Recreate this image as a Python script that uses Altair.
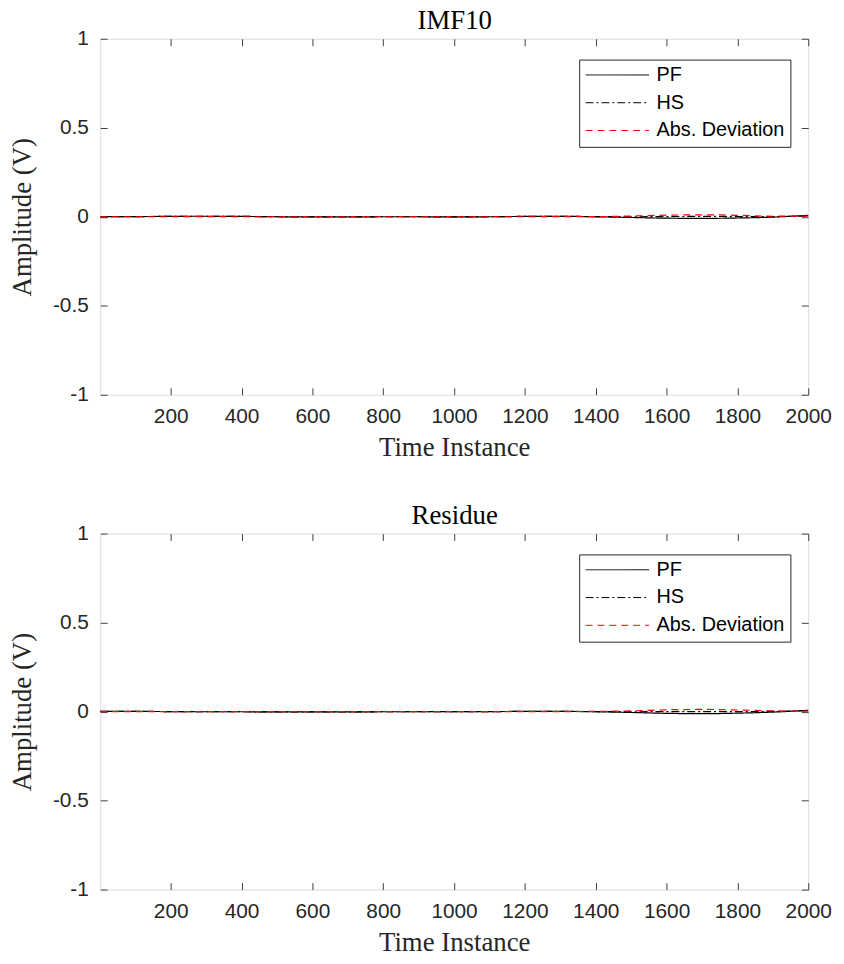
import altair as alt
import pandas as pd

# ---- data ----
time_pts = [1, 100, 200, 300, 400, 500, 600, 700, 800, 900, 1000,
            1100, 1200, 1300, 1400, 1500, 1600, 1700, 1800, 1900, 2000]

imf10_pf = [0.000, 0.001, 0.002, 0.003, 0.002, 0.000, -0.001, -0.001, 0.000, 0.000, -0.001,
            0.000, 0.002, 0.003, 0.000, -0.004, -0.008, -0.009, -0.007, -0.002, 0.008]
imf10_hs = [0.000, 0.001, 0.002, 0.002, 0.002, 0.000, -0.001, -0.001, 0.000, 0.000, -0.001,
            0.000, 0.002, 0.002, 0.001, 0.000, 0.001, 0.002, 0.001, 0.001, 0.004]
imf10_dev = [0.000, 0.000, 0.000, 0.001, 0.000, 0.000, 0.000, 0.000, 0.000, 0.000, 0.000,
             0.000, 0.000, 0.001, 0.001, 0.004, 0.009, 0.011, 0.008, 0.003, 0.004]

res_pf = [0.001, 0.001, 0.000, -0.001, -0.001, -0.002, -0.002, -0.002, -0.001, -0.001, 0.000,
          0.000, 0.001, 0.001, -0.001, -0.005, -0.010, -0.012, -0.009, -0.003, 0.007]
res_hs = [0.001, 0.001, 0.000, -0.001, -0.001, -0.002, -0.002, -0.002, -0.001, -0.001, 0.000,
          0.000, 0.001, 0.001, 0.000, -0.001, 0.000, 0.000, 0.000, 0.001, 0.005]
res_dev = [0.000, 0.000, 0.000, 0.000, 0.000, 0.000, 0.000, 0.000, 0.000, 0.000, 0.000,
           0.000, 0.000, 0.000, 0.001, 0.004, 0.010, 0.012, 0.009, 0.004, 0.002]

series_names = ["PF", "HS", "Abs. Deviation"]
series_colors = ["#000000", "#000000", "#ff0000"]
series_dashes = [[1, 0], [8, 3, 2, 3], [7, 5]]
x_ticks = [200, 400, 600, 800, 1000, 1200, 1400, 1600, 1800, 2000]
y_ticks = [-1, -0.5, 0, 0.5, 1]

SANS = "Liberation Sans"
SERIF = "Liberation Serif"
AX = "#404040"


def make_df(field, pf, hs, dev):
    rows = []
    for name, vals in zip(series_names, [pf, hs, dev]):
        for t, v in zip(time_pts, vals):
            rows.append({"t": t, "v": v, field: name})
    return pd.DataFrame(rows)


def panel(title, field, df):
    base = alt.Chart(df)
    x_scale = alt.Scale(domain=[1, 2000], nice=False, zero=False)
    y_scale = alt.Scale(domain=[-1, 1], nice=False)
    leg = alt.Legend(
        orient="none", legendX=483, legendY=21, title=None,
        symbolType="stroke", symbolSize=4096, symbolStrokeWidth=1, clipHeight=19,
        labelFont=SANS, labelFontSize=20, labelColor="#000000",
        labelOffset=7, padding=6, rowPadding=7,
        strokeColor="#262626", fillColor="#ffffff",
    )
    lines = base.mark_line(strokeWidth=1.2, interpolate="monotone").encode(
        x=alt.X("t:Q", scale=x_scale, axis=alt.Axis(
            orient="bottom", values=x_ticks, format="d", title="Time Instance",
            offset=-7, tickSize=7, tickColor=AX, domain=False, grid=False,
            labelPadding=11, labelFont=SANS, labelFontSize=21, labelColor="#262626",
            labelFlush=False,
            titleFont=SERIF, titleFontSize=27, titleFontWeight="normal", titleColor="#262626",
            titleX=357, titleY=68, titleBaseline="alphabetic", titleAlign="center")),
        y=alt.Y("v:Q", scale=y_scale, axis=alt.Axis(
            orient="left", values=y_ticks, labelExpr="toString(datum.value)",
            title="Amplitude (V)",
            offset=-7, tickSize=7, tickColor=AX, domain=False, grid=False,
            labelPadding=12, labelFont=SANS, labelFontSize=21, labelColor="#262626",
            labelFlush=False,
            titleFont=SERIF, titleFontSize=27, titleFontWeight="normal", titleColor="#262626",
            titleX=-85, titleY=179.5, titleBaseline="middle", titleAlign="center", titleAngle=270)),
        color=alt.Color(f"{field}:N", scale=alt.Scale(domain=series_names, range=series_colors),
                        legend=leg),
        strokeDash=alt.StrokeDash(f"{field}:N", scale=alt.Scale(domain=series_names, range=series_dashes),
                                  legend=leg),
    )
    mirror = base.mark_line(opacity=0).encode(
        x=alt.X("t:Q", scale=x_scale, axis=alt.Axis(
            orient="top", values=x_ticks, labels=False, title=title,
            offset=-7, tickSize=7, tickColor=AX, domain=False, grid=False,
            titleFont=SERIF, titleFontSize=27, titleFontWeight="normal", titleColor="#000000",
            titleX=357, titleY=-17, titleBaseline="alphabetic", titleAlign="center")),
        y=alt.Y("v:Q", scale=y_scale, axis=alt.Axis(
            orient="right", values=y_ticks, labels=False, title=None,
            offset=-7, tickSize=7, tickColor=AX, domain=False, grid=False)),
        detail=f"{field}:N",
    )
    return alt.layer(lines, mirror).resolve_axis(x="independent", y="independent").properties(
        width=714, height=359,
    )


top = panel("IMF10", "series_a", make_df("series_a", imf10_pf, imf10_hs, imf10_dev))
bottom = panel("Residue", "series_b", make_df("series_b", res_pf, res_hs, res_dev))

chart = alt.vconcat(top, bottom, spacing=40).resolve_scale(
    color="independent", strokeDash="independent"
).resolve_legend(
    color="independent", strokeDash="independent"
).properties(
    padding={"left": 0, "top": -6, "right": 4, "bottom": 0}
).configure_view(stroke=AX, strokeWidth=1).configure(background="#ffffff")

chart.save("out.html", embed_options={"renderer": "svg", "actions": False})
